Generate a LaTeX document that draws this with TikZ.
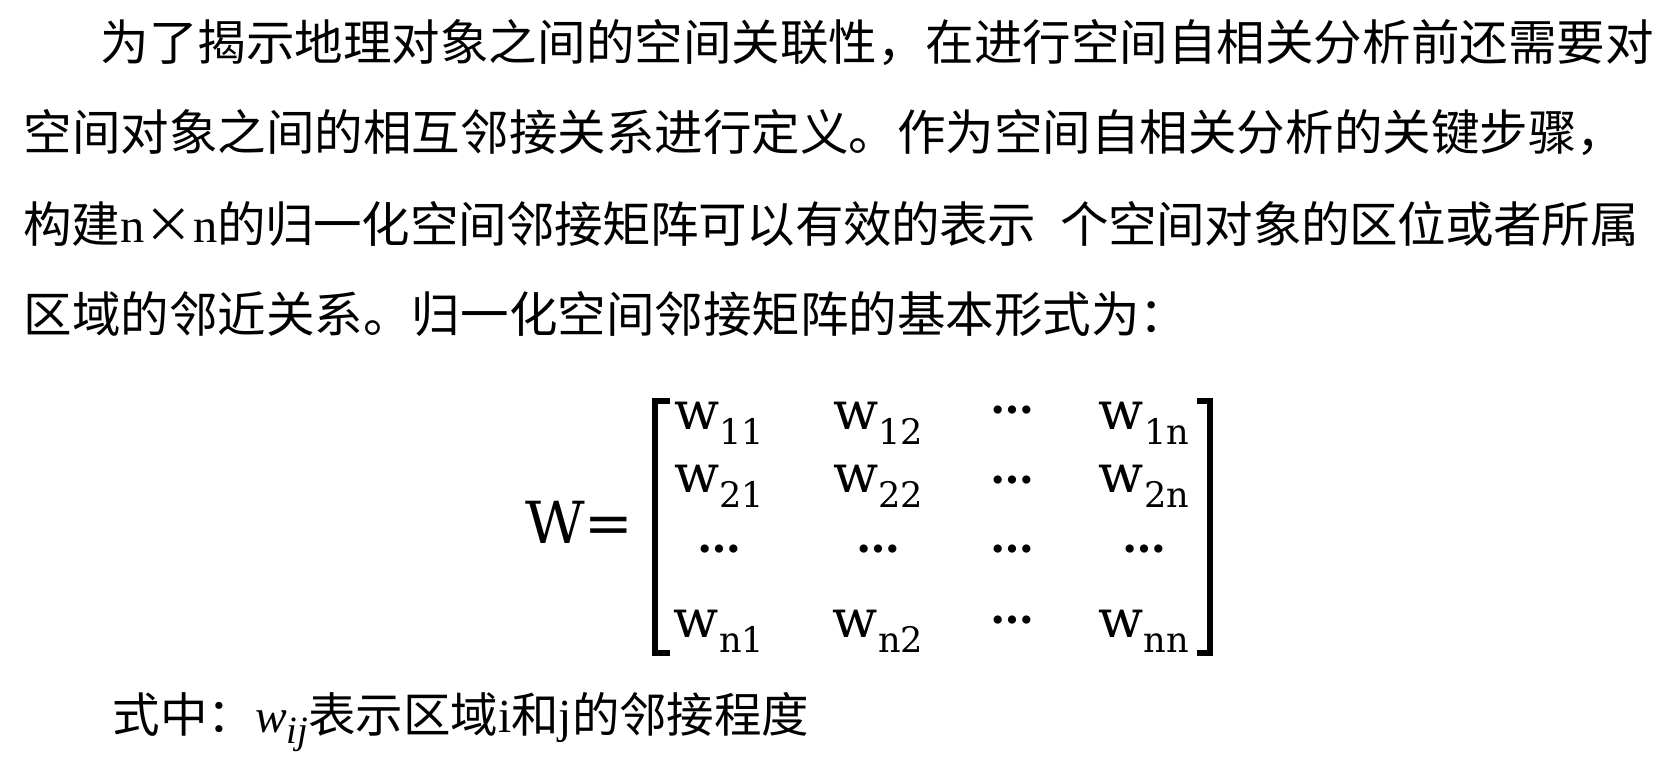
\documentclass[tikz,border=0pt]{standalone}
\usepackage{fontspec}
\setmainfont{Liberation Serif}
\newfontfamily\cjk{Noto Sans CJK SC}
\newfontfamily\mtx{DejaVu Serif}
\newcommand\wsub[1]{w\raisebox{-4.3pt}{\fontsize{10pt}{10pt}\selectfont#1}}
\begin{document}
\begin{tikzpicture}[x=0.01cm, y=-0.01cm,
  txt/.style={anchor=west, inner sep=0pt, font=\cjk\fontsize{13.8pt}{13.8pt}\selectfont},
  note/.style={anchor=west, inner sep=0pt, font=\cjk\fontsize{13.5pt}{13.5pt}\selectfont},
  ent/.style={anchor=base, inner sep=0pt, font=\mtx\fontsize{15pt}{15pt}\selectfont},
  dts/.style={inner sep=0pt, font=\mtx\bfseries\fontsize{12.5pt}{12.5pt}\selectfont},
  brk/.style={line width=1.5pt}]
\useasboundingbox (0,0) rectangle (1671,760);
\node[txt] (ln1) at (100,43){为了揭示地理对象之间的空间关联性，在进行空间自相关分析前还需要对};
\node[txt] (ln2) at (23,133){空间对象之间的相互邻接关系进行定义。作为空间自相关分析的关键步骤，};
\node[txt] (ln3) at (23,224){\addfontfeature{LetterSpace=-0.8}构建{\rmfamily n}×{\rmfamily n}的归一化空间邻接矩阵可以有效的表示\hspace{0.5em}个空间对象的区位或者所属};
\node[txt] (ln4) at (23,314){区域的邻近关系。归一化空间邻接矩阵的基本形式为：};
\node[anchor=base east, inner sep=0pt, font=\mtx\fontsize{16.5pt}{16.5pt}\selectfont] (lhs) at (634,543){W=};
\draw[brk] (670,401) -- (655,401) -- (655,653) -- (670,653);
\draw[brk] (1197,401) -- (1210,401) -- (1210,653) -- (1197,653);
\node[ent] (w11) at (719,429){\wsub{11}};
\node[ent] (w12) at (878,429){\wsub{12}};
\node[dts] (d13) at (1012,410){…};
\node[ent] (w1n) at (1144,429){\wsub{1n}};
\node[ent] (w21) at (719,492){\wsub{21}};
\node[ent] (w22) at (878,492){\wsub{22}};
\node[dts] (d23) at (1012,480){…};
\node[ent] (w2n) at (1144,492){\wsub{2n}};
\node[dts] (d31) at (719,549){…};
\node[dts] (d32) at (878,549){…};
\node[dts] (d33) at (1012,549){…};
\node[dts] (d34) at (1144,549){…};
\node[ent] (wn1) at (719,637){\wsub{n1}};
\node[ent] (wn2) at (878,637){\wsub{n2}};
\node[dts] (d43) at (1012,620){…};
\node[ent] (wnn) at (1144,637){\wsub{nn}};
\node[note] (ln5) at (112,722){式中：{\rmfamily\itshape w\raisebox{-3pt}{\fontsize{11pt}{11pt}\selectfont ij}}表示区域{\rmfamily i}和{\rmfamily j}的邻接程度};
\end{tikzpicture}
\end{document}
